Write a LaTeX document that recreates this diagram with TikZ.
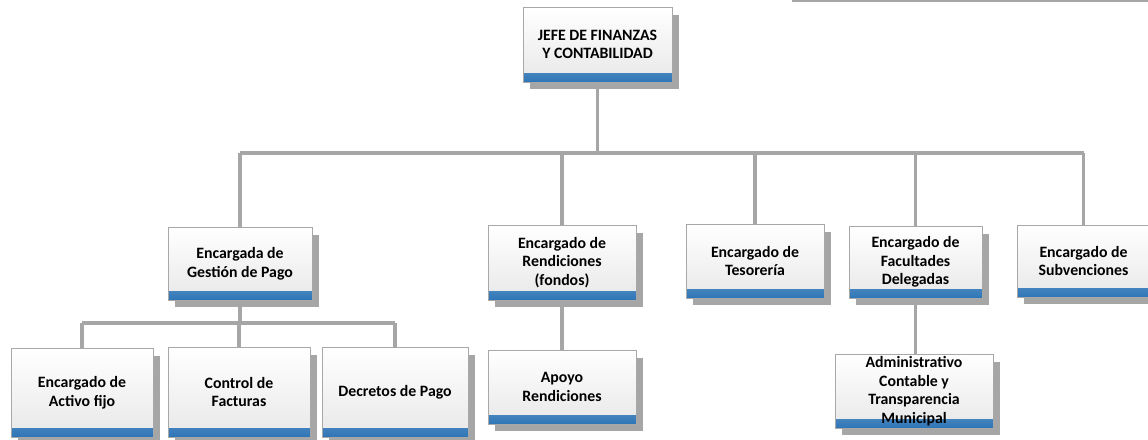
\documentclass[tikz,border=0pt]{standalone}
\usepackage{fontspec}
\setmainfont{Carlito}
\usetikzlibrary{calc,positioning,shadows,backgrounds}

\definecolor{linegray}{HTML}{A6A6A6}
\definecolor{boxedge}{HTML}{A8A8A8}
\definecolor{bandtop}{HTML}{DDEBF7}
\definecolor{bandbot}{HTML}{2E75B6}

\tikzset{
  orgbox/.style={draw=boxedge, line width=0.5pt, top color=white, bottom color=black!9,
    align=center, font=\bfseries\fontsize{9}{10.6}\selectfont, inner sep=1pt,
    drop shadow={shadow xshift=0.14cm, shadow yshift=-0.15cm, fill=linegray, opacity=1},
    path picture={\shade[top color=bandtop, bottom color=bandbot]
      (path picture bounding box.south west) rectangle
      ([yshift=0.17cm]path picture bounding box.south east);}},
  conn/.style={draw=linegray, line width=2.2pt}
}

\begin{document}
\begin{tikzpicture}[x=0.02cm,y=-0.02cm]
\useasboundingbox (0,0) rectangle (1148,439);
\coordinate (bus) at (0,153);
\coordinate (bus2) at (0,323);
\draw[linegray, line width=1.2pt] (792,0.5)--(1148,0.5);
% level 1
\node[orgbox, minimum width=2.98cm, minimum height=1.5cm] (jefe) at (597.5,44.5) {JEFE DE FINANZAS\\Y CONTABILIDAD};
% level 2
\node[orgbox, minimum width=2.88cm, minimum height=1.46cm] (gest) at (240,263.5) {Encargada de\\Gestión de Pago};
\node[orgbox, minimum width=2.96cm, minimum height=1.5cm] (rend) at (562,262.5) {Encargado de\\Rendiciones\\(fondos)};
\node[orgbox, minimum width=2.76cm, minimum height=1.48cm] (teso) at (755,261) {Encargado de\\Tesorería};
\node[orgbox, minimum width=2.66cm, minimum height=1.44cm] (facu) at (915.5,262) {Encargado de\\Facultades\\Delegadas};
\node[orgbox, minimum width=2.66cm, minimum height=1.44cm] (subv) at (1083.5,261) {Encargado de\\Subvenciones};
% level 3
\node[orgbox, minimum width=2.84cm, minimum height=1.78cm] (activo) at (82,392.5) {Encargado de\\Activo fijo};
\node[orgbox, minimum width=2.84cm, minimum height=1.8cm] (control) at (239,392) {Control de\\Facturas};
\node[orgbox, minimum width=2.92cm, minimum height=1.8cm] (decretos) at (395,392) {Decretos de Pago};
\node[orgbox, minimum width=2.96cm, minimum height=1.48cm] (apoyo) at (562,387) {Apoyo\\Rendiciones};
\node[orgbox, minimum width=3.16cm, minimum height=1.48cm] (admin) at (914,391) {Administrativo\\Contable y\\Transparencia\\Municipal};
% connectors
\begin{scope}[on background layer]
\draw[conn] (jefe.south) -- (jefe.south |- bus);
\draw[conn] (gest.north |- bus) -- (subv.north |- bus);
\foreach \n in {gest,rend,teso,facu,subv}{\draw[conn] (\n.north) -- (\n.north |- bus);}
\draw[conn] (gest.south) -- (gest.south |- bus2);
\draw[conn] (activo.north |- bus2) -- (decretos.north |- bus2);
\foreach \n in {activo,control,decretos}{\draw[conn] (\n.north) -- (\n.north |- bus2);}
\draw[conn] (rend.south) -- (apoyo.north);
\draw[conn] (facu.south) -- (facu.south |- admin.north);
\end{scope}
\end{tikzpicture}
\end{document}
